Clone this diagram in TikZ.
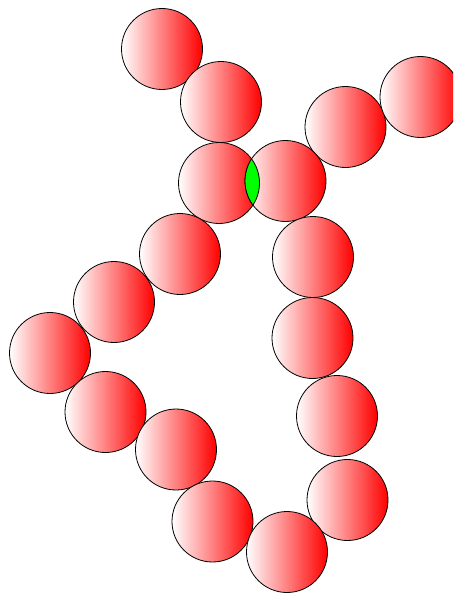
\documentclass[tikz,border=0pt]{standalone}
\begin{document}
\begin{tikzpicture}[x=1pt,y=-1pt,
  ball/.style={circle,draw=black,line width=0.8pt,minimum size=81pt,inner sep=0pt,
    shading=axis,left color=white,right color=red,shading angle=90}]
\useasboundingbox (0,0) rectangle (453,594);
\clip (0,0) rectangle (453,594);
\node[ball] (c1) at (162,49) {};
\node[ball] (c2) at (221,102) {};
\node[ball] (c3) at (345.5,127) {};
\node[ball] (c4) at (420.5,97) {};
\node[ball] (c5) at (219,183) {};
\node[ball] (c6) at (285.5,181) {};
\node[ball] (c7) at (180,254) {};
\node[ball] (c8) at (313,257) {};
\node[ball] (c9) at (114,302) {};
\node[ball] (c10) at (50,353) {};
\node[ball] (c11) at (312.5,338) {};
\node[ball] (c12) at (105.5,412) {};
\node[ball] (c13) at (337,416) {};
\node[ball] (c14) at (176,449.5) {};
\node[ball] (c15) at (347.5,500) {};
\node[ball] (c16) at (212.5,521.5) {};
\node[ball] (c17) at (287,552) {};
\begin{scope}
  \clip (c5.center) circle (40.5);
  \filldraw[fill=green,draw=black,line width=0.8pt] (c6.center) circle (40.5);
\end{scope}
\begin{scope}
  \clip (c6.center) circle (40.5);
  \draw[black,line width=0.8pt] (c5.center) circle (40.5);
\end{scope}
\end{tikzpicture}
\end{document}
